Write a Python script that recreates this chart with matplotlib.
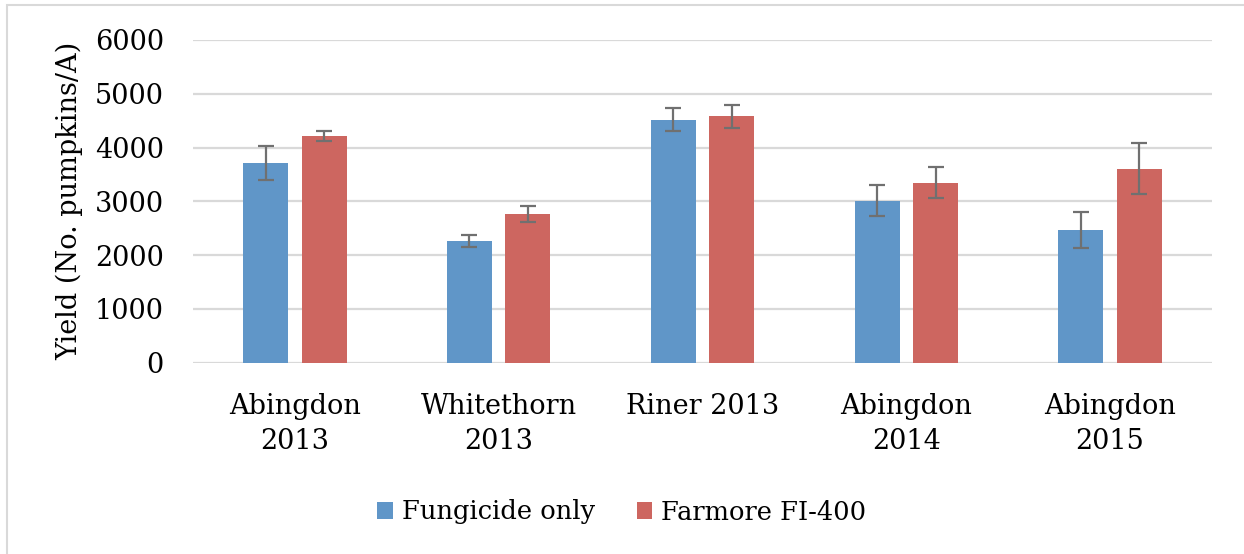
import matplotlib
matplotlib.use("Agg")
import matplotlib.pyplot as plt
import numpy as np
from matplotlib.patches import Patch, Rectangle

categories = ["Abingdon\n2013", "Whitethorn\n2013", "Riner 2013", "Abingdon\n2014", "Abingdon\n2015"]
series_names = ["Fungicide only", "Farmore FI-400"]
fungicide = [3710, 2260, 4515, 3010, 2470]
fungicide_err = [310, 110, 215, 290, 330]
farmore = [4220, 2770, 4580, 3350, 3610]
farmore_err = [90, 150, 215, 295, 470]
yticks = [0, 1000, 2000, 3000, 4000, 5000, 6000]

blue = "#6096C8"
red = "#CD6660"
errc = "#707070"
gridc = "#D9D9D9"

W, H = 1244, 554
fig = plt.figure(figsize=(W / 100, H / 100), dpi=100)
plt.rcParams['font.family'] = ['DejaVu Serif']

# outer chart border (left and top edges visible)
fig.patches.append(Rectangle((7 / W, -0.2), 1.2, 0.2 + (H - 5) / H, transform=fig.transFigure,
                             fill=False, edgecolor=gridc, linewidth=1.5, zorder=0))

ax = fig.add_axes([193 / W, (H - 362.7) / H, (1212 - 193) / W, (362.7 - 40) / H])

x = np.arange(len(categories))
bw = 0.221
off = 0.1433
ax.bar(x - off, fungicide, bw, color=blue, yerr=fungicide_err, zorder=3,
       error_kw=dict(ecolor=errc, elinewidth=1.6, capsize=5.8, capthick=1.6))
ax.bar(x + off, farmore, bw, color=red, yerr=farmore_err, zorder=3,
       error_kw=dict(ecolor=errc, elinewidth=1.6, capsize=5.8, capthick=1.6))

ax.set_xlim(-0.5, len(categories) - 0.5)
ax.set_ylim(0, 6000)
ax.set_yticks(yticks)
ax.set_yticklabels([str(v) for v in yticks], fontsize=19.5)
ax.set_xticks(x)
ax.set_xticklabels(categories, fontsize=19.5, linespacing=1.38)
ax.tick_params(axis='y', length=0, pad=21)
ax.tick_params(axis='x', length=0, pad=22)
ax.yaxis.grid(True, color=gridc, linewidth=1.6, zorder=0)
ax.set_axisbelow(True)
for s in ax.spines.values():
    s.set_visible(False)
ax.set_ylabel("Yield (No. pumpkins/A)", fontsize=19.5, labelpad=8)

handles = [Patch(facecolor=blue, label=series_names[0]),
           Patch(facecolor=red, label=series_names[1])]
fig.legend(handles=handles, loc='center', bbox_to_anchor=(0.5, (H - 512) / H), ncol=2,
           frameon=False, fontsize=18.5, handlelength=0.62, handleheight=0.62,
           handletextpad=0.35, columnspacing=1.6)

fig.savefig("out.png", dpi=100)
